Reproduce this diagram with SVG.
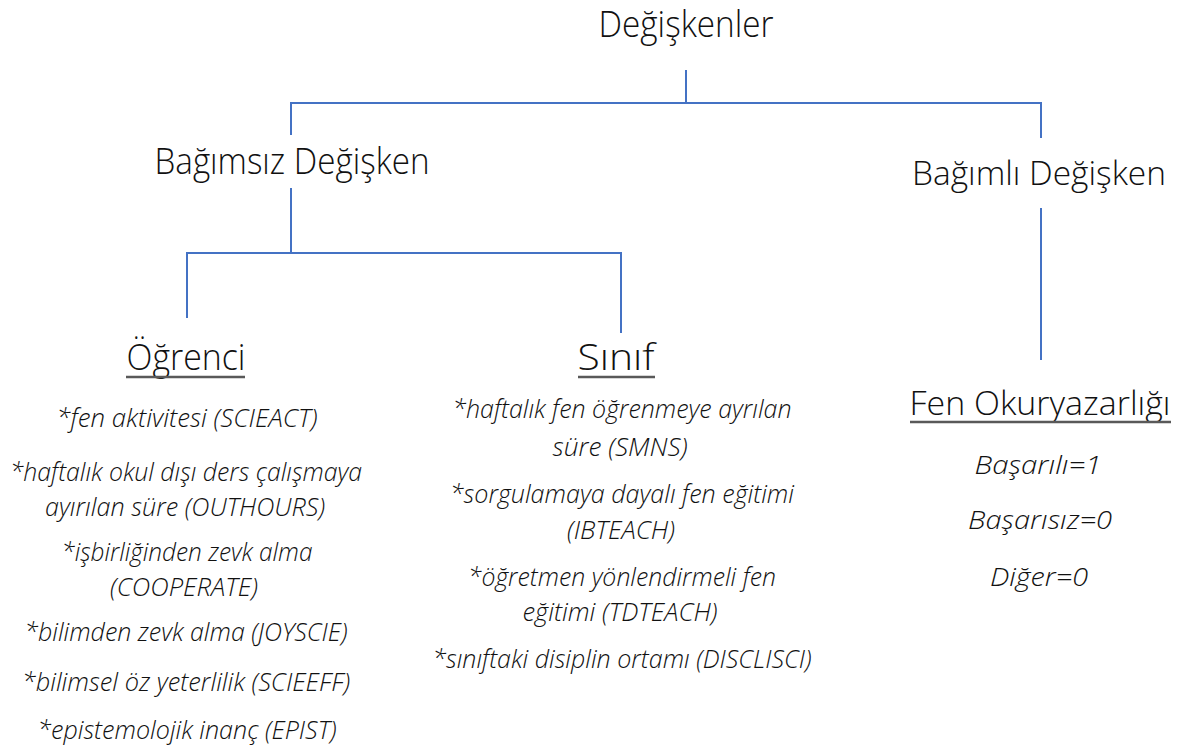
<svg xmlns="http://www.w3.org/2000/svg" width="1181" height="753" viewBox="0 0 1181 753">
<style>
.h{font-family:"Open Sans","Liberation Sans",sans-serif;font-weight:300;font-size:36px;fill:#111;text-anchor:middle}
.r{font-size:33px}
.i{font-family:"Open Sans","Liberation Sans",sans-serif;font-weight:300;font-style:italic;font-size:25px;fill:#111;text-anchor:middle}
.c{fill:none;stroke:#4472C4;stroke-width:2}
.u{stroke:#595959;stroke-width:2.5}
</style>
<rect width="1181" height="753" fill="#fff"/>
<g id="connectors">
<path class="c" d="M686 70V103M291 135V103H1041V138"/>
<path class="c" d="M291 188V253M187 318V253H621V333"/>
<path class="c" d="M1041 208V360"/>
</g>
<g id="root"><text class="h" x="686" y="37" textLength="175" lengthAdjust="spacingAndGlyphs">Değişkenler</text></g>
<g id="bagimsiz"><text class="h" x="292" y="174" textLength="275" lengthAdjust="spacingAndGlyphs">Bağımsız Değişken</text></g>
<g id="bagimli"><text class="h r" x="1039" y="185" textLength="254" lengthAdjust="spacingAndGlyphs">Bağımlı Değişken</text></g>
<g id="ogrenci">
<text class="h" x="186" y="370" textLength="119" lengthAdjust="spacingAndGlyphs">Öğrenci</text>
<line class="u" x1="126" y1="377" x2="245" y2="377"/>
<text class="i" x="187" y="427" textLength="261" lengthAdjust="spacingAndGlyphs">*fen aktivitesi (SCIEACT)</text>
<text class="i" x="186" y="481" textLength="352" lengthAdjust="spacingAndGlyphs">*haftalık okul dışı ders çalışmaya</text>
<text class="i" x="185" y="516" textLength="280" lengthAdjust="spacingAndGlyphs">ayırılan süre (OUTHOURS)</text>
<text class="i" x="187" y="561" textLength="251" lengthAdjust="spacingAndGlyphs">*işbirliğinden zevk alma</text>
<text class="i" x="184" y="596" textLength="148" lengthAdjust="spacingAndGlyphs">(COOPERATE)</text>
<text class="i" x="186" y="641" textLength="323" lengthAdjust="spacingAndGlyphs">*bilimden zevk alma (JOYSCIE)</text>
<text class="i" x="186" y="691" textLength="328" lengthAdjust="spacingAndGlyphs">*bilimsel öz yeterlilik (SCIEEFF)</text>
<text class="i" x="187" y="739" textLength="299" lengthAdjust="spacingAndGlyphs">*epistemolojik inanç (EPIST)</text>
</g>
<g id="sinif">
<text class="h" x="616" y="370" textLength="77" lengthAdjust="spacingAndGlyphs">Sınıf</text>
<line class="u" x1="578" y1="377" x2="655" y2="377"/>
<text class="i" x="622" y="418" textLength="339" lengthAdjust="spacingAndGlyphs">*haftalık fen öğrenmeye ayrılan</text>
<text class="i" x="620" y="456" textLength="135" lengthAdjust="spacingAndGlyphs">süre (SMNS)</text>
<text class="i" x="622" y="503" textLength="344" lengthAdjust="spacingAndGlyphs">*sorgulamaya dayalı fen eğitimi</text>
<text class="i" x="621" y="539" textLength="108" lengthAdjust="spacingAndGlyphs">(IBTEACH)</text>
<text class="i" x="622" y="586" textLength="308" lengthAdjust="spacingAndGlyphs">*öğretmen yönlendirmeli fen</text>
<text class="i" x="620" y="621" textLength="195" lengthAdjust="spacingAndGlyphs">eğitimi (TDTEACH)</text>
<text class="i" x="622" y="668" textLength="379" lengthAdjust="spacingAndGlyphs">*sınıftaki disiplin ortamı (DISCLISCI)</text>
</g>
<g id="fen">
<text class="h r" x="1040" y="415" textLength="261" lengthAdjust="spacingAndGlyphs">Fen Okuryazarlığı</text>
<line class="u" x1="910" y1="422" x2="1171" y2="422"/>
<text class="i" x="1038" y="474" textLength="127" lengthAdjust="spacingAndGlyphs">Başarılı=1</text>
<text class="i" x="1040" y="529" textLength="144" lengthAdjust="spacingAndGlyphs">Başarısız=0</text>
<text class="i" x="1039" y="586" textLength="98" lengthAdjust="spacingAndGlyphs">Diğer=0</text>
</g>
</svg>
